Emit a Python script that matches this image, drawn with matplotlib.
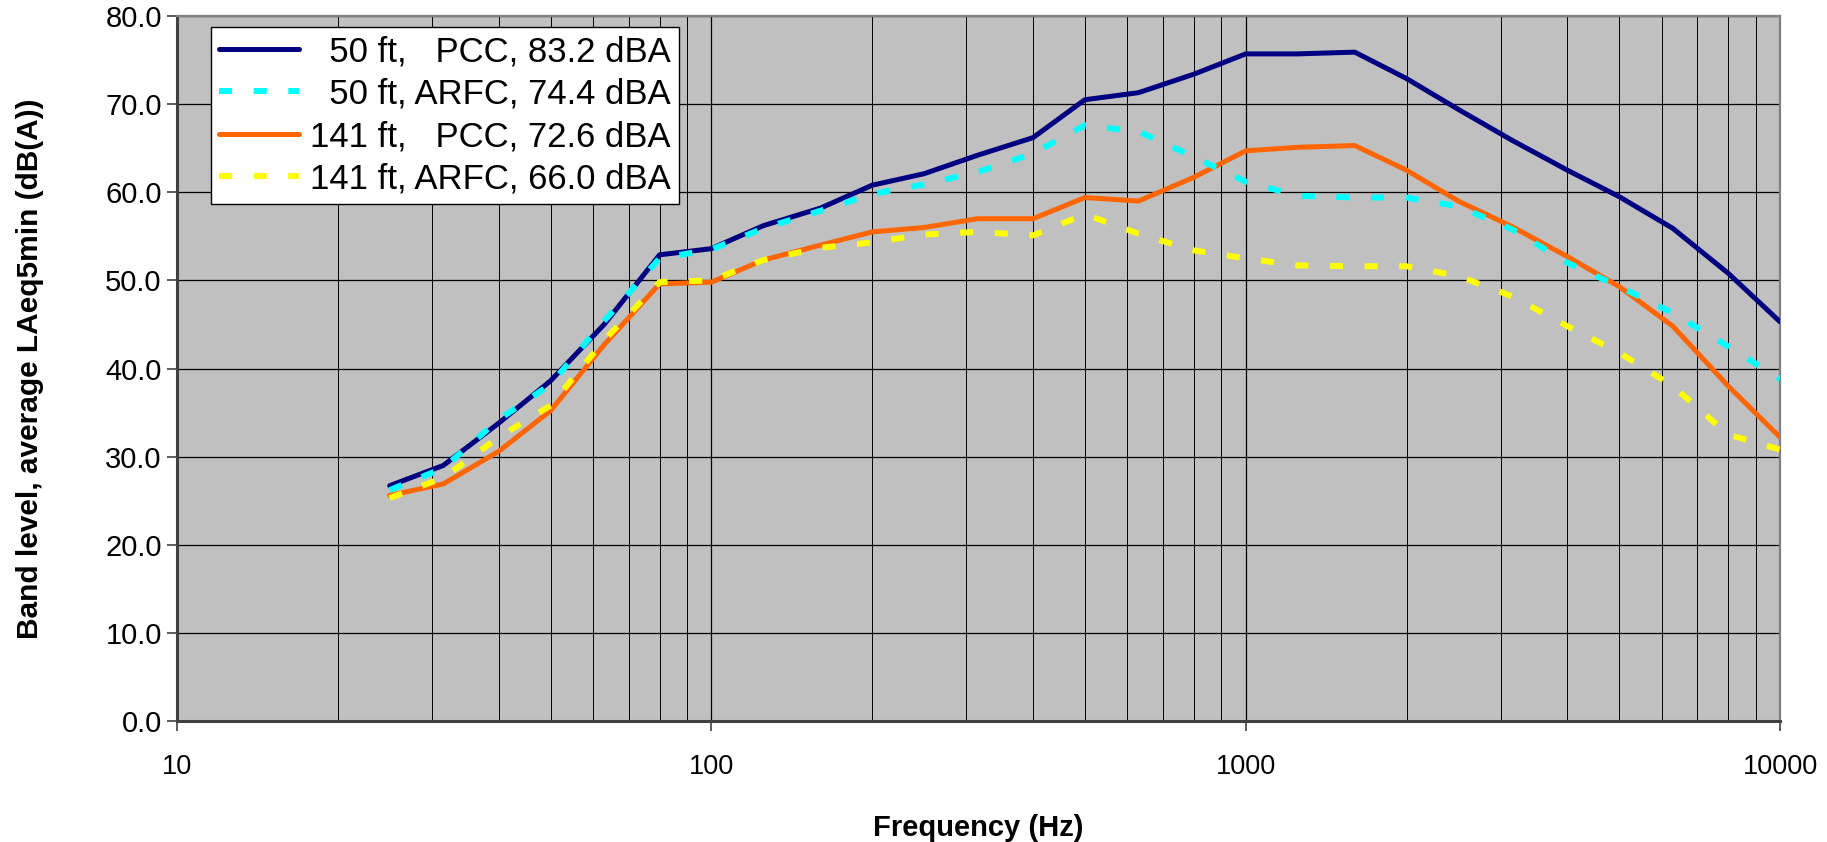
import matplotlib.pyplot as plt
import numpy as np
from matplotlib.ticker import FixedLocator, FuncFormatter, LogLocator, NullFormatter

# one-third octave band centres (Hz)
freq = [25, 31.5, 40, 50, 63, 80, 100, 125, 160, 200, 250, 315, 400, 500,
        630, 800, 1000, 1250, 1600, 2000, 2500, 3150, 4000, 5000, 6300, 8000, 10000]

pcc_50 = [26.7, 29.0, 33.8, 38.6, 45.0, 52.9, 53.6, 56.2, 58.2, 60.8, 62.1, 64.2, 66.2, 70.5,
          71.3, 73.4, 75.7, 75.7, 75.9, 72.9, 69.4, 65.9, 62.5, 59.5, 55.9, 50.8, 45.3]
arfc_50 = [26.2, 28.7, 34.2, 38.2, 45.4, 52.5, 53.5, 55.9, 57.9, 59.8, 60.9, 62.3, 64.4, 67.6,
           66.9, 64.0, 61.2, 59.6, 59.4, 59.4, 58.4, 55.8, 52.0, 49.3, 46.3, 42.5, 38.8]
pcc_141 = [25.6, 26.9, 30.6, 35.2, 42.7, 49.6, 49.8, 52.3, 54.0, 55.5, 56.0, 57.0, 57.0, 59.4,
           59.0, 61.7, 64.7, 65.1, 65.3, 62.5, 59.0, 56.1, 52.7, 49.3, 44.8, 38.0, 32.2]
arfc_141 = [25.3, 27.6, 32.2, 35.8, 43.2, 49.8, 50.0, 52.3, 53.7, 54.3, 55.2, 55.5, 55.1, 57.5,
            55.3, 53.4, 52.5, 51.7, 51.6, 51.6, 50.5, 48.2, 44.8, 41.8, 38.0, 32.5, 30.8]

labels = ["  50 ft,   PCC, 83.2 dBA",
          "  50 ft, ARFC, 74.4 dBA",
          "141 ft,   PCC, 72.6 dBA",
          "141 ft, ARFC, 66.0 dBA"]

plt.rcParams['font.family'] = ['Liberation Sans', 'DejaVu Sans']

fig = plt.figure(figsize=(18.27, 8.42), dpi=100)
ax = fig.add_axes([0.0969, 0.1437, 0.8774, 0.8373])
ax.set_facecolor('#C0C0C0')

dash = (0, (2.2, 3.6))
ax.plot(freq, pcc_50, color='#000080', lw=3.6, solid_capstyle='round', label=labels[0], zorder=3)
ax.plot(freq, arfc_50, color='#00FFFF', lw=4.3, linestyle=dash, dash_capstyle='butt', label=labels[1], zorder=4)
ax.plot(freq, pcc_141, color='#FF6600', lw=3.6, solid_capstyle='round', label=labels[2], zorder=3)
ax.plot(freq, arfc_141, color='#FFFF00', lw=4.3, linestyle=dash, dash_capstyle='butt', label=labels[3], zorder=4)

ax.set_xscale('log')
ax.set_xlim(10, 10000)
ax.set_ylim(0, 80)
ax.yaxis.set_major_locator(FixedLocator(np.arange(0, 81, 10)))
ax.yaxis.set_major_formatter(FuncFormatter(lambda v, p: "%.1f" % v))
ax.xaxis.set_major_formatter(FuncFormatter(lambda v, p: "%d" % v))
ax.xaxis.set_minor_locator(LogLocator(base=10, subs=np.arange(2, 10)))
ax.xaxis.set_minor_formatter(NullFormatter())

ax.grid(True, which='major', axis='both', color='black', lw=0.9, zorder=1)
ax.grid(True, which='minor', axis='x', color='black', lw=0.7, zorder=1)
ax.set_axisbelow(True)

ax.tick_params(axis='both', which='major', length=7, width=1.2, color='#404040')
ax.tick_params(axis='y', which='major', labelsize=21, pad=4)
ax.tick_params(axis='x', which='major', labelsize=19.5, pad=17)
ax.tick_params(axis='x', which='minor', length=0)

for s in ['left', 'bottom']:
    ax.spines[s].set_color('#404040')
    ax.spines[s].set_linewidth(2.2)
for s in ['top', 'right']:
    ax.spines[s].set_color('#808080')
    ax.spines[s].set_linewidth(1.6)

ax.set_xlabel("Frequency (Hz)", fontsize=21, fontweight='bold', labelpad=24)
ax.set_ylabel("Band level, average LAeq5min (dB(A))", fontsize=21.5, fontweight='bold', labelpad=44)

leg = ax.legend(loc='upper left', bbox_to_anchor=(0.021, 0.985), fontsize=25, frameon=True,
                fancybox=False, edgecolor='black', framealpha=1, borderpad=0.25,
                handlelength=2.3, handletextpad=0.3, labelspacing=0.27, borderaxespad=0)
leg.get_frame().set_linewidth(1.0)

fig.savefig('out.png', dpi=100)
